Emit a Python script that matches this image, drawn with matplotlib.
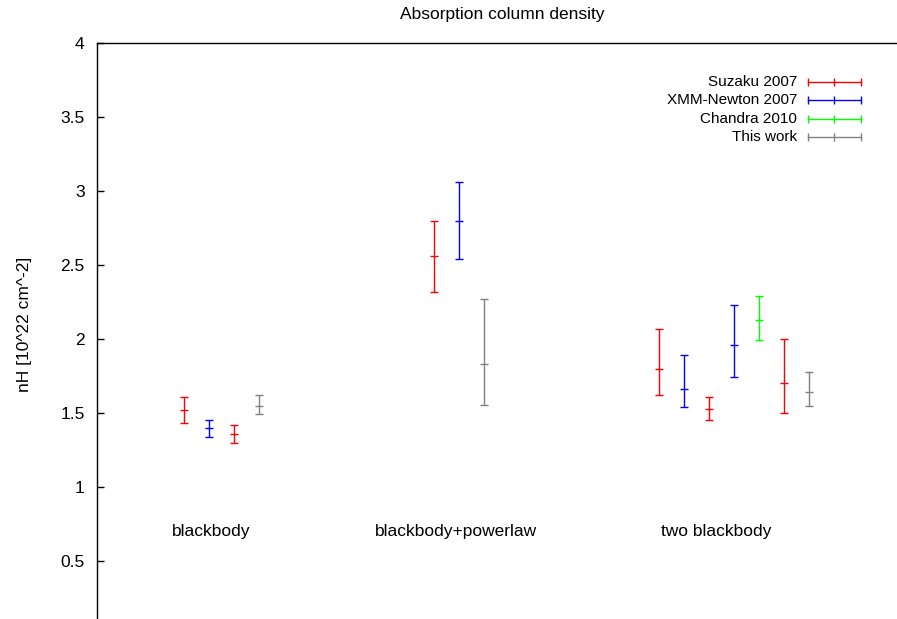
import matplotlib
matplotlib.use("Agg")
import matplotlib.pyplot as plt
from matplotlib.ticker import FixedLocator, FuncFormatter

plt.rcParams['font.family'] = ['Liberation Sans', 'DejaVu Sans']
plt.rcParams['font.size'] = 12.5

# slot positions along x, central nH and the lower/upper error limits
suzaku_x = [1, 3, 11, 20, 22, 25]
suzaku_nh = [1.52, 1.36, 2.56, 1.80, 1.53, 1.70]
suzaku_lo = [1.43, 1.30, 2.32, 1.62, 1.45, 1.50]
suzaku_hi = [1.61, 1.42, 2.80, 2.07, 1.61, 2.00]

xmm_x = [2, 12, 21, 23]
xmm_nh = [1.40, 2.80, 1.66, 1.96]
xmm_lo = [1.34, 2.54, 1.54, 1.74]
xmm_hi = [1.455, 3.06, 1.89, 2.23]

chandra_x = [24]
chandra_nh = [2.13]
chandra_lo = [1.99]
chandra_hi = [2.29]

thiswork_x = [4, 13, 26]
thiswork_nh = [1.55, 1.83, 1.645]
thiswork_lo = [1.49, 1.555, 1.545]
thiswork_hi = [1.62, 2.27, 1.78]

models = ["blackbody", "blackbody+powerlaw", "two blackbody"]
model_x = [2.08, 11.88, 22.3]
model_y = 0.7

yticks = [0.5, 1, 1.5, 2, 2.5, 3, 3.5, 4]

series = [
    ("Suzaku 2007", "#ff0000", suzaku_x, suzaku_nh, suzaku_lo, suzaku_hi),
    ("XMM-Newton 2007", "#0000ff", xmm_x, xmm_nh, xmm_lo, xmm_hi),
    ("Chandra 2010", "#00ff00", chandra_x, chandra_nh, chandra_lo, chandra_hi),
    ("This work", "#808080", thiswork_x, thiswork_nh, thiswork_lo, thiswork_hi),
]

fig = plt.figure(figsize=(8.97, 6.19), dpi=100)
# axes run past the right and bottom edges of the canvas
ax = fig.add_axes([97 / 897, -16 / 619, 811 / 897, 592 / 619])
ax.set_xlim(-2.48, 29.96)
ax.set_ylim(0, 4)

for name, color, xs, ys, lo, hi in series:
    yerr = [[y - l for y, l in zip(ys, lo)], [h - y for y, h in zip(ys, hi)]]
    ax.errorbar(xs, ys, yerr=yerr, fmt='_', color=color, ms=6, mew=1.0,
                elinewidth=1.0, capsize=3.2, capthick=1.0)

for label, x in zip(models, model_x):
    ax.text(x, model_y, label, ha='center', va='center', fontsize=12.5)

# key in the upper right corner
for i, (name, color, *_rest) in enumerate(series):
    ya = (635 - (82 + 18.4 * i)) / 592
    x0, x1 = (808 - 97) / 811, (861 - 97) / 811
    ax.text((797 - 97) / 811, ya, name, transform=ax.transAxes,
            ha='right', va='center', fontsize=11)
    ax.plot([x0, x1], [ya, ya], color=color, lw=1.0, transform=ax.transAxes)
    ax.plot([x0, (x0 + x1) / 2, x1], [ya] * 3, ls='none', marker='|', ms=6,
            mew=1.0, color=color, transform=ax.transAxes)

ax.yaxis.set_major_locator(FixedLocator(yticks))
ax.yaxis.set_major_formatter(FuncFormatter(lambda v, p: '%g' % v))
ax.tick_params(axis='y', direction='in', length=5, width=1.0, pad=9,
               labelsize=12.5)
ax.set_xticks([])
for s in ax.spines.values():
    s.set_linewidth(1.0)

ax.set_ylabel("nH [10^22 cm^-2]", fontsize=12.5)
ax.yaxis.set_label_coords(-0.08, 0.524)
fig.text(502.5 / 897, 1 - 15 / 619, "Absorption column density",
         ha='center', va='center', fontsize=12.5)

fig.savefig("out.png", dpi=100)
